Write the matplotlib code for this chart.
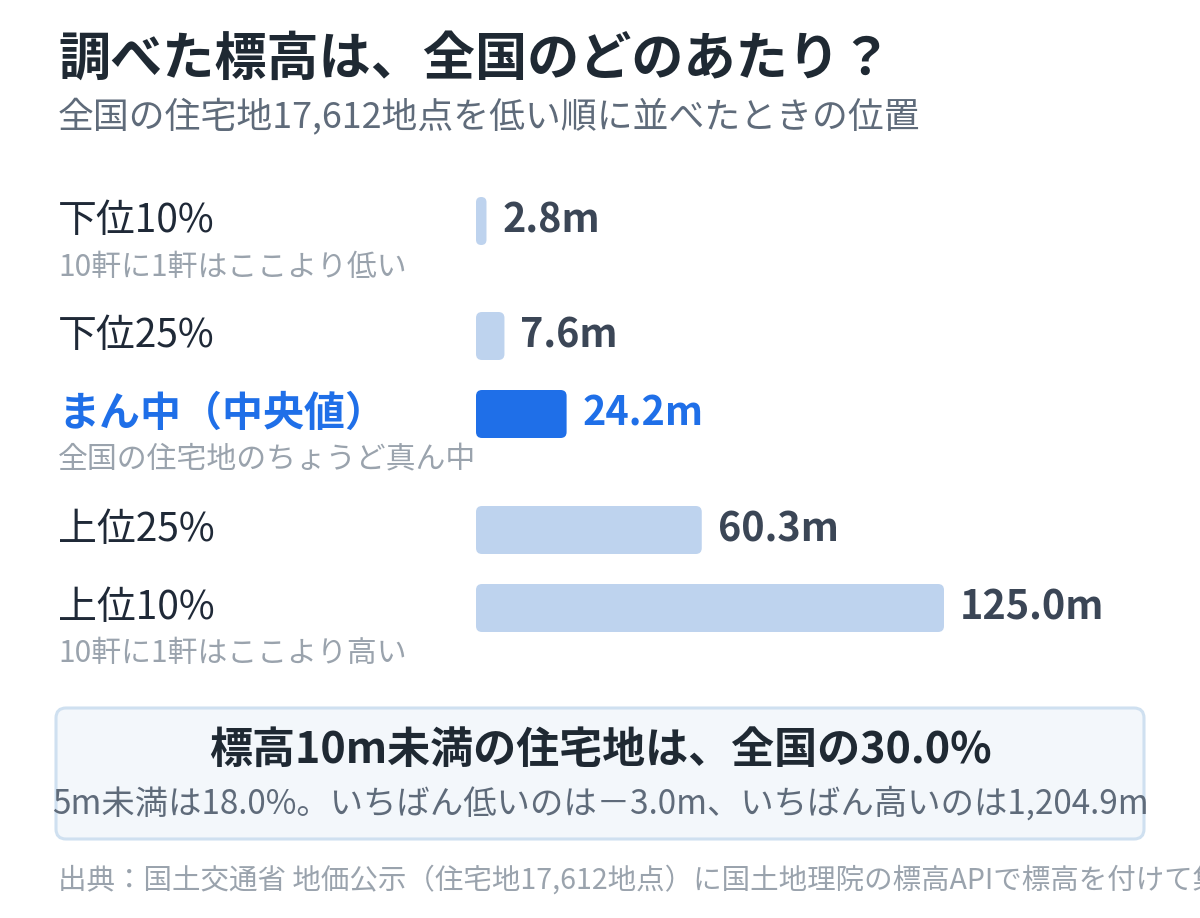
import matplotlib
matplotlib.use("Agg")
import matplotlib.pyplot as plt
from matplotlib.patches import FancyBboxPatch

plt.rcParams['font.family'] = ['Noto Sans CJK JP', 'DejaVu Sans']

# --- データ ---
title = "調べた標高は、全国のどのあたり？"
subtitle = "全国の住宅地17,612地点を低い順に並べたときの位置"
labels = ["下位10%", "下位25%", "まん中（中央値）", "上位25%", "上位10%"]
sublabels = ["10軒に1軒はここより低い", "", "全国の住宅地のちょうど真ん中", "", "10軒に1軒はここより高い"]
values = [2.8, 7.6, 24.2, 60.3, 125.0]
highlight = 2  # 中央値
box_title = "標高10m未満の住宅地は、全国の30.0%"
box_note = "5m未満は18.0%。いちばん低いのは－3.0m、いちばん高いのは1,204.9m"
source = "出典：国土交通省 地価公示（住宅地17,612地点）に国土地理院の標高APIで標高を付けて集計"

# --- 色 ---
c_title = "#1f2933"
c_sub = "#5f6b7a"
c_label = "#1f2937"
c_note = "#9aa3ad"
c_value = "#3b4656"
c_blue = "#1f6fe8"
c_bar = "#bed3ee"

W, H = 1200, 918
fig = plt.figure(figsize=(W / 100, H / 100), dpi=100)
fig.patch.set_facecolor("white")

# 背景用の軸（ピクセル座標）
bg = fig.add_axes([0, 0, 1, 1])
bg.set_xlim(0, W)
bg.set_ylim(H, 0)
bg.axis("off")

bg.text(58, 59, title, fontsize=37.5, fontweight="bold", color=c_title, va="center", ha="left")
bg.text(58, 118, subtitle, fontsize=25.8, color=c_sub, va="center", ha="left")

# 行の位置（ピクセル）
row_y = [221, 336, 414, 530, 608]
bar_h = 48
px_per_m = 3.744
bar_left = 476

ax = fig.add_axes([bar_left / W, 0, 1 - bar_left / W, 1])
ax.set_xlim(0, (W - bar_left) / px_per_m)
ax.set_ylim(H, 0)
ax.axis("off")

r_px = 6
for i, (lab, sub, v, y) in enumerate(zip(labels, sublabels, values, row_y)):
    hi = (i == highlight)
    bg.text(58, y, lab, fontsize=29.5 if hi else 28, fontweight="bold" if hi else "normal",
            color=c_blue if hi else c_label, va="center", ha="left")
    if sub:
        bg.text(58, y + 46, sub, fontsize=21.5, color=c_note, va="center", ha="left")

    w_px = v * px_per_m
    r = min(r_px, w_px / 2, bar_h / 2)
    patch = FancyBboxPatch((0, y - bar_h / 2), v, bar_h,
                           boxstyle=f"round,pad=0,rounding_size={r / px_per_m}",
                           mutation_aspect=px_per_m,
                           facecolor=c_blue if hi else c_bar, edgecolor="none")
    ax.add_patch(patch)
    ax.annotate(f"{v:.1f}m", xy=(v, y), xytext=(16, 0), textcoords="offset pixels",
                fontsize=28.5, fontweight="bold", color=c_blue if hi else c_value,
                va="center", ha="left")

# 下のまとめボックス
box = FancyBboxPatch((56, 708), 1088, 131, boxstyle="round,pad=0,rounding_size=10",
                     facecolor="#f3f7fb", edgecolor="#cfe0f0", linewidth=2.2)
bg.add_patch(box)
bg.text(600, 750, box_title, fontsize=31, fontweight="bold", color=c_title, va="center", ha="center")
bg.text(600, 804, box_note, fontsize=24, color=c_sub, va="center", ha="center")

bg.text(58, 881, source, fontsize=20.5, color=c_note, va="center", ha="left", clip_on=False)

fig.savefig("out.png", dpi=100)
